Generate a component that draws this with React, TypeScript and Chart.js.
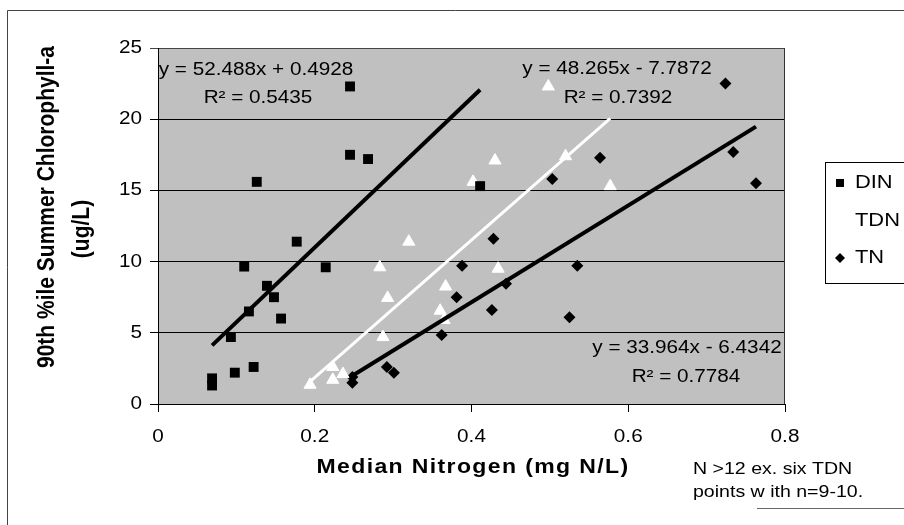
import React, { useEffect, useRef } from "react";
import { Chart, registerables } from "chart.js";
Chart.register(...registerables);

const xTickLabels = ["0", "0.2", "0.4", "0.6", "0.8"];
const yTickLabels = ["0", "5", "10", "15", "20", "25"];

const seriesNames = ["DIN", "TDN", "TN"];

const dinX = [0.069, 0.069, 0.093, 0.098, 0.11, 0.116, 0.122, 0.126, 0.139, 0.148, 0.157, 0.177, 0.214, 0.245, 0.245, 0.268, 0.411];
const dinY = [1.3, 1.8, 4.7, 2.2, 9.65, 6.5, 2.6, 15.6, 8.3, 7.5, 6.0, 11.4, 9.6, 22.3, 17.5, 17.2, 15.3];

const tdnX = [0.194, 0.223, 0.223, 0.236, 0.283, 0.287, 0.293, 0.32, 0.36, 0.365, 0.367, 0.402, 0.43, 0.434, 0.498, 0.52, 0.577];
const tdnY = [1.35, 1.7, 2.6, 2.1, 9.6, 4.7, 7.45, 11.4, 6.55, 5.9, 8.25, 15.6, 17.1, 9.5, 22.3, 17.4, 15.3];

const tnX = [0.248, 0.248, 0.292, 0.301, 0.362, 0.381, 0.388, 0.426, 0.428, 0.444, 0.503, 0.525, 0.535, 0.564, 0.724, 0.734, 0.763];
const tnY = [1.5, 1.9, 2.6, 2.2, 4.85, 7.5, 9.7, 6.6, 11.6, 8.45, 15.8, 6.1, 9.7, 17.3, 22.5, 17.7, 15.5];

const trendSlopes = [52.488, 48.265, 33.964];
const trendIntercepts = [0.4928, -7.7872, -6.4342];
const trendEquations = ["y = 52.488x + 0.4928", "y = 48.265x - 7.7872", "y = 33.964x - 6.4342"];
const trendR2 = ["R² = 0.5435", "R² = 0.7392", "R² = 0.7784"];

const xTitle = "Median Nitrogen (mg N/L)";
const yTitleLines = ["90th %ile Summer Chlorophyll-a", "(ug/L)"];
const noteLines = ["N >12 ex. six TDN", "points w ith n=9-10."];

const FONT = "'Liberation Sans', Arial, sans-serif";
const SX = 1.15;

function pts(xs: number[], ys: number[]) {
  return xs.map((x, i) => ({ x, y: ys[i] }));
}
function trend(xs: number[], k: number) {
  const lo = Math.min(...xs);
  const hi = Math.max(...xs);
  return [
    { x: lo, y: trendSlopes[k] * lo + trendIntercepts[k] },
    { x: hi, y: trendSlopes[k] * hi + trendIntercepts[k] },
  ];
}

function txt(ctx: CanvasRenderingContext2D, s: string, x: number, y: number, font: string, align: CanvasTextAlign, spacing = 0) {
  ctx.save();
  ctx.translate(x, y);
  ctx.scale(SX, 1);
  ctx.font = font;
  (ctx as any).letterSpacing = spacing + "px";
  ctx.fillStyle = "#000";
  ctx.textAlign = align;
  ctx.textBaseline = "middle";
  ctx.fillText(s, 0, 0);
  ctx.restore();
}

const decorPlugin = {
  id: "decor",
  beforeDraw(chart: any) {
    const { ctx, chartArea: a } = chart;
    ctx.save();
    ctx.fillStyle = "#fff";
    ctx.fillRect(0, 0, chart.width, chart.height);
    ctx.fillStyle = "#c0c0c0";
    ctx.fillRect(a.left, a.top, a.right - a.left, a.bottom - a.top);
    ctx.restore();
  },
  afterDraw(chart: any) {
    const { ctx, chartArea: a } = chart;
    const xs = chart.scales.x;
    const ys = chart.scales.y;
    ctx.save();
    // plot right border
    ctx.strokeStyle = "#333";
    ctx.lineWidth = 1;
    ctx.beginPath();
    ctx.moveTo(a.right - 0.5, a.top);
    ctx.lineTo(a.right - 0.5, a.bottom);
    ctx.stroke();
    // outer chart border
    ctx.strokeStyle = "#444";
    ctx.beginPath();
    ctx.moveTo(7.5, 525);
    ctx.lineTo(7.5, 10.5);
    ctx.lineTo(904, 10.5);
    ctx.stroke();
    ctx.strokeStyle = "#666";
    ctx.beginPath();
    ctx.moveTo(757, 508.5);
    ctx.lineTo(904, 508.5);
    ctx.stroke();

    // tick labels
    const tickFont = `18px ${FONT}`;
    yTickLabels.forEach((l) => {
      txt(ctx, l, 142, ys.getPixelForValue(Number(l)), tickFont, "right");
    });
    xTickLabels.forEach((l) => {
      txt(ctx, l, xs.getPixelForValue(Number(l)), 437, tickFont, "center");
    });

    // x title
    txt(ctx, xTitle, 473, 467, `bold 20px ${FONT}`, "center", 1.2);

    // y title (rotated)
    const yCenters = [[47, 207], [82, 229]];
    yTitleLines.forEach((l, i) => {
      ctx.save();
      ctx.translate(yCenters[i][0], yCenters[i][1]);
      ctx.rotate(-Math.PI / 2);
      ctx.scale(1, SX);
      ctx.font = `bold 21px ${FONT}`;
      ctx.fillStyle = "#000";
      ctx.textAlign = "center";
      ctx.textBaseline = "middle";
      ctx.fillText(l, 0, 0);
      ctx.restore();
    });

    // equations
    const eqPos = [[256, 70, 258, 98], [617, 69, 618, 98], [687, 348, 686, 377]];
    const eqFont = `18px ${FONT}`;
    trendEquations.forEach((e, i) => {
      txt(ctx, e, eqPos[i][0], eqPos[i][1], eqFont, "center");
      txt(ctx, trendR2[i], eqPos[i][2], eqPos[i][3], eqFont, "center");
    });

    // legend
    ctx.strokeStyle = "#000";
    ctx.lineWidth = 1;
    ctx.strokeRect(825.5, 162.5, 100, 121);
    const legY = [183, 221, 258];
    const legFont = `19px ${FONT}`;
    seriesNames.forEach((n, i) => txt(ctx, n, 855, legY[i], legFont, "left"));
    ctx.fillStyle = "#000";
    ctx.fillRect(836, legY[0] - 4, 8, 8);
    ctx.beginPath();
    ctx.moveTo(840, legY[2] - 5);
    ctx.lineTo(845, legY[2]);
    ctx.lineTo(840, legY[2] + 5);
    ctx.lineTo(835, legY[2]);
    ctx.closePath();
    ctx.fill();
    ctx.fillStyle = "#fff";
    ctx.beginPath();
    ctx.moveTo(840, legY[1] - 5);
    ctx.lineTo(845, legY[1] + 4);
    ctx.lineTo(835, legY[1] + 4);
    ctx.closePath();
    ctx.fill();

    // note
    const noteFont = `17px ${FONT}`;
    txt(ctx, noteLines[0], 693, 469, noteFont, "left");
    txt(ctx, noteLines[1], 693, 492, noteFont, "left");
    ctx.restore();
  },
};

export default function App() {
  const ref = useRef<HTMLCanvasElement>(null);
  useEffect(() => {
    const canvas = ref.current!;
    const chart = new Chart(canvas, {
      type: "scatter",
      data: {
        datasets: [
          { label: "DIN trend", data: trend(dinX, 0), showLine: true, borderColor: "#000", borderWidth: 4, pointRadius: 0 },
          { label: "TDN trend", data: trend(tdnX, 1), showLine: true, borderColor: "#fff", borderWidth: 3, pointRadius: 0 },
          { label: "TN trend", data: trend(tnX, 2), showLine: true, borderColor: "#000", borderWidth: 4, pointRadius: 0 },
          { label: seriesNames[0], data: pts(dinX, dinY), pointStyle: "rect", pointRadius: 7, backgroundColor: "#000", borderColor: "#000", borderWidth: 0 },
          { label: seriesNames[1], data: pts(tdnX, tdnY), pointStyle: "triangle", pointRadius: 7, backgroundColor: "#fff", borderColor: "#fff", borderWidth: 1 },
          { label: seriesNames[2], data: pts(tnX, tnY), pointStyle: "rectRot", pointRadius: 6, backgroundColor: "#000", borderColor: "#000", borderWidth: 0 },
        ],
      } as any,
      options: {
        responsive: false,
        animation: false,
        devicePixelRatio: 1,
        layout: { padding: { left: 0, top: 48, right: 119, bottom: 0 } },
        plugins: { legend: { display: false }, tooltip: { enabled: false } },
        scales: {
          x: {
            type: "linear",
            min: 0,
            max: 0.8,
            ticks: { display: false, stepSize: 0.2 },
            grid: { drawOnChartArea: false, drawTicks: true, tickLength: 8, color: "#000" },
            border: { display: true, color: "#000", width: 1 },
            afterFit(s: any) { s.height = 121; },
          },
          y: {
            type: "linear",
            min: 0,
            max: 25,
            ticks: { display: false, stepSize: 5 },
            grid: { color: (c: any) => (c.tick && c.tick.value === 25 ? "#444" : "#000"), tickLength: 8, lineWidth: 1 },
            border: { display: true, color: "#000", width: 1 },
            afterFit(s: any) { s.width = 158; },
          },
        },
      } as any,
      plugins: [decorPlugin],
    });
    return () => chart.destroy();
  }, []);
  return (
    <div style={{ position: "fixed", left: 0, top: 0, width: 904, height: 525, background: "#fff" }}>
      <canvas ref={ref} width={904} height={525} style={{ width: 904, height: 525, display: "block" }} />
    </div>
  );
}
